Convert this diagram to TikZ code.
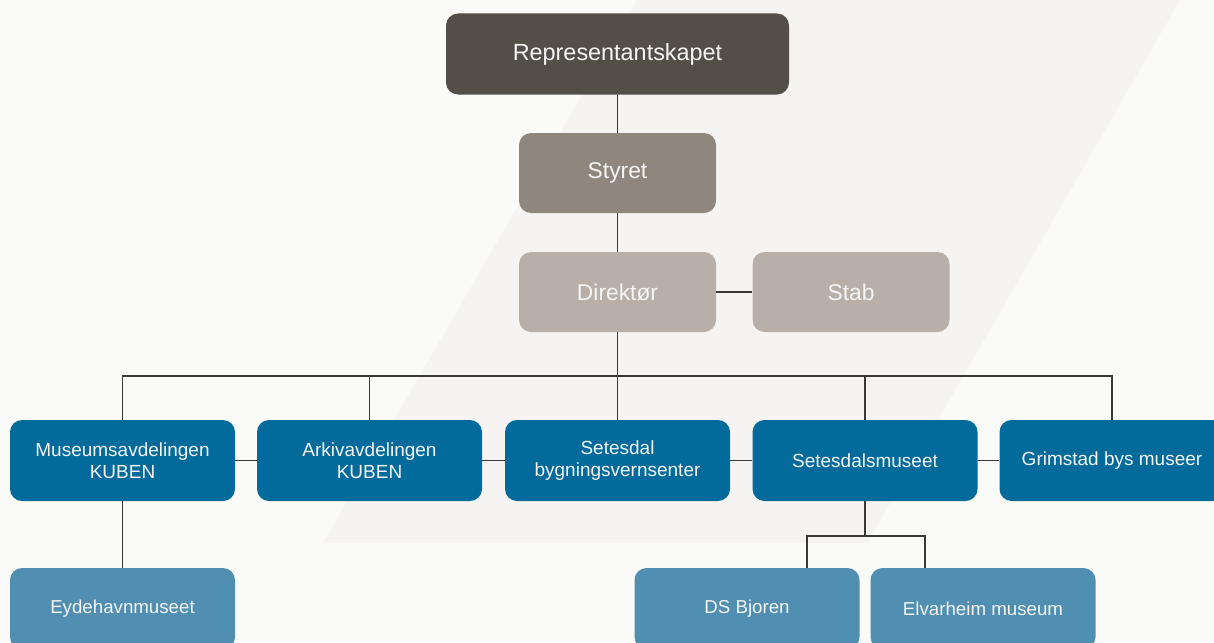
\documentclass[tikz,border=0pt]{standalone}
\usepackage{fontspec}
\setmainfont{Liberation Sans}
\usepackage{tikz}
\usetikzlibrary{backgrounds}

\definecolor{bgcol}{HTML}{FAFAF8}
\definecolor{bandcol}{HTML}{F5F4F2}
\definecolor{repcol}{HTML}{544E49}
\definecolor{styrecol}{HTML}{8F867D}
\definecolor{dircol}{HTML}{B8AFA8}
\definecolor{unitcol}{HTML}{036B9C}
\definecolor{subcol}{HTML}{508FB1}
\definecolor{linkcol}{HTML}{383838}

\tikzset{
  orgbox/.style={rounded corners=12pt,inner sep=0pt,align=center,text=white!96!black},
  topbox/.style={orgbox,minimum width=197pt,minimum height=80pt,font=\fontsize{22.8}{27}\selectfont},
  unitbox/.style={orgbox,fill=unitcol,minimum width=225pt,minimum height=81pt,font=\fontsize{19}{22}\selectfont},
  subbox/.style={orgbox,fill=subcol,minimum width=225pt,minimum height=81pt,font=\fontsize{18.7}{22}\selectfont},
  link/.style={draw=linkcol,line width=1.4pt}
}

\begin{document}
\begin{tikzpicture}[x=1pt,y=-1pt]
        \useasboundingbox (0,0) rectangle (1214,642);
        \fill[bgcol](0,0) rectangle (1214,642);
        \fill[bandcol](637,0)--(1180,0)--(867,543)--(323,543)--cycle;
        % ledelse
        \node[topbox,fill=repcol,minimum width=343pt,minimum height=81pt,font=\fontsize{23.4}{27}\selectfont] (rep) at (617.5,54) {Representantskapet};
        \node[topbox,fill=styrecol] (styret) at (617.5,173) {Styret};
        \node[topbox,fill=dircol] (dir) at (617.5,292) {Direktør};
        \node[topbox,fill=dircol] (stab) at (851,292) {Stab};
        % avdelinger
        \node[unitbox] (mus) at (122.5,460.5) {Museumsavdelingen\\KUBEN};
        \node[unitbox] (ark) at (369.5,460.5) {Arkivavdelingen\\KUBEN};
        \node[unitbox] (bvs) at (617.5,460.5) {Setesdal\\bygningsvernsenter};
        \node[unitbox] (sm) at (865,460.5) {Setesdalsmuseet};
        \node[unitbox] (gbm) at (1112,460.5) {Grimstad bys museer};
        \node[subbox] (eyd) at (122.5,608.5) {Eydehavnmuseet};
        \node[subbox] (dsb) at (747,608.5) {DS Bjoren};
        \node[subbox] (elv) at (983,608.5) {Elvarheim museum};
        \coordinate (bus) at (0,376);
        \coordinate (subl) at (807,536);
        \coordinate (subr) at (925,536);
        % linjer
        \draw[link] (rep)--(styret);
        \draw[link] (styret)--(dir);
        \draw[link] (dir)--(stab);
        \draw[link] (dir)--(bvs);
        \draw[link] (mus.north)--(mus.north |- bus)--(gbm.north |- bus)--(gbm.north);
        \draw[link] (ark.north)--(ark.north |- bus);
        \draw[link] (sm.north)--(sm.north |- bus);
        \draw[link] (mus)--(ark);
        \draw[link] (ark)--(bvs);
        \draw[link] (bvs)--(sm);
        \draw[link] (sm)--(gbm);
        \draw[link] (mus)--(eyd);
        \draw[link] (sm.south)--(sm.south |- subl);
        \draw[link] (subl |- dsb.north)|-(subr)--(subr |- elv.north);
    \end{tikzpicture}
\end{document}
